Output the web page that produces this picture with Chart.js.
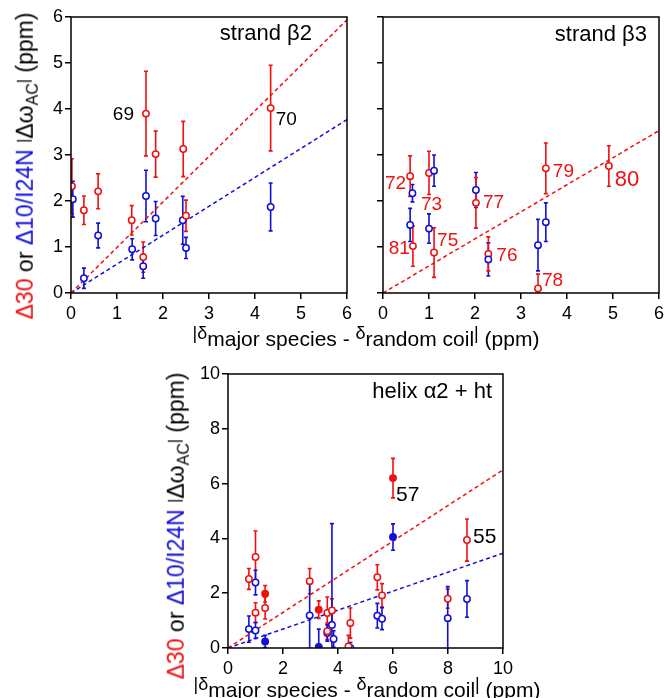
<!DOCTYPE html>
<html>
<head>
<meta charset="utf-8">
<script src="https://cdn.jsdelivr.net/npm/chart.js@4"></script>
<style>
  body { margin: 0; background: #fff; }
  #page { position: relative; width: 664px; height: 698px; overflow: hidden; font-family: "Liberation Sans", Arial, sans-serif; }
  canvas { position: absolute; }
  .ytitle { position: absolute; transform: translate(-50%, -50%) rotate(-90deg); white-space: nowrap; font-size: 23px; line-height: 1.15; color: #000; }
  .xtitle { position: absolute; transform: translateX(-50%); white-space: nowrap; font-size: 21px; line-height: 21px; color: #000; }
  .up { position: relative; top: -7px; font-size: 18px; }
  .bar { position: relative; top: -4px; font-size: 16px; }
  .sub { position: relative; top: 5px; font-size: 16px; }
  .red { color: #f01010; }
  .blue { color: #1010d8; }
</style>
</head>
<body>
<div id="page">
  <canvas id="c1" width="365" height="325" style="left:0;top:0"></canvas>
  <canvas id="c2" width="325" height="325" style="left:355px;top:0"></canvas>
  <canvas id="c3" width="385" height="325" style="left:150px;top:355px"></canvas>

  <div class="ytitle" style="left:25px;top:166px"><span class="red">Δ30</span> or <span class="blue">Δ10/I24N</span> <span class="bar">|</span>Δω<span class="sub">AC</span><span class="bar">|</span> (ppm)</div>
  <div class="xtitle" style="left:366px;top:328px"><span class="up">|δ</span>major species - <span class="up">δ</span>random coil<span class="up">|</span> (ppm)</div>

  <div class="ytitle" style="left:176px;top:526px"><span class="red">Δ30</span> or <span class="blue">Δ10/I24N</span> <span class="bar">|</span>Δω<span class="sub">AC</span><span class="bar">|</span> (ppm)</div>
  <div class="xtitle" style="left:367px;top:679px"><span class="up">|δ</span>major species - <span class="up">δ</span>random coil<span class="up">|</span> (ppm)</div>
</div>
<script>
// strand β2
const b2RedX = [0.02, 0.28, 0.59, 1.32, 1.57, 1.63, 1.84, 2.44, 2.50, 4.34];
const b2RedY = [2.32, 1.80, 2.21, 1.58, 0.78, 3.90, 3.02, 3.13, 1.68, 4.02];
const b2RedErr = [0.60, 0.31, 0.38, 0.32, 0.33, 0.92, 0.50, 0.60, 0.34, 0.93];
const b2BlueX = [0.04, 0.28, 0.59, 1.33, 1.57, 1.63, 1.84, 2.43, 2.50, 4.34];
const b2BlueY = [2.04, 0.32, 1.25, 0.95, 0.58, 2.11, 1.62, 1.58, 0.98, 1.87];
const b2BlueErr = [0.39, 0.22, 0.27, 0.23, 0.26, 0.56, 0.37, 0.52, 0.23, 0.52];
const b2FitX = [0, 6];
const b2RedFit = [0, 5.94];
const b2BlueFit = [0, 3.77];

// strand β3  (red order: 72, 73, 81, 75, 77, 76, 78, 79, 80)
const b3RedX = [0.59, 1.00, 0.65, 1.11, 2.02, 2.29, 3.37, 3.54, 4.91];
const b3RedY = [2.54, 2.61, 1.02, 0.88, 1.96, 0.85, 0.10, 2.71, 2.76];
const b3RedErr = [0.44, 0.47, 0.44, 0.54, 0.55, 0.37, 0.31, 0.55, 0.44];
const b3RedNames = ['72', '73', '81', '75', '77', '76', '78', '79', '80'];
const b3BlueX = [0.64, 1.11, 0.59, 1.00, 2.02, 2.29, 3.37, 3.54];
const b3BlueY = [2.17, 2.66, 1.48, 1.40, 2.24, 0.73, 1.04, 1.54];
const b3BlueErr = [0.19, 0.34, 0.36, 0.32, 0.38, 0.36, 0.56, 0.42];
const b3FitX = [0, 6];
const b3RedFit = [0, 3.53];

// helix α2 + ht
const hxRedX = [0.76, 1.00, 1.00, 1.35, 2.97, 3.61, 3.61, 3.78, 4.38, 4.45, 5.43, 5.60, 7.99, 8.69];
const hxRedY = [2.52, 3.32, 1.29, 1.46, 2.44, 1.28, 0.61, 1.37, 0.06, 0.91, 2.58, 1.92, 1.80, 3.94];
const hxRedErr = [0.38, 0.95, 0.36, 0.40, 0.46, 0.58, 0.30, 0.43, 0.40, 0.55, 0.46, 0.43, 0.35, 0.77];
const hxRedFillX = [1.35, 3.30, 6.00];
const hxRedFillY = [1.98, 1.40, 6.20];
const hxRedFillErr = [0.30, 0.32, 0.72];
const hxBlueX = [0.76, 1.00, 1.00, 2.97, 3.61, 3.78, 3.84, 4.45, 5.43, 5.60, 7.99, 8.69];
const hxBlueY = [0.69, 2.39, 0.64, 1.19, 0.55, 0.84, 0.33, 0.00, 1.18, 1.07, 1.09, 1.79];
const hxBlueErr = [0.48, 0.45, 0.29, 1.20, 0.30, 3.70, 0.30, 0.20, 0.45, 0.40, 1.15, 0.67];
const hxBlueFillX = [1.35, 3.30, 6.00];
const hxBlueFillY = [0.24, 0.04, 4.05];
const hxBlueFillErr = [0.22, 0.65, 0.48];
const hxFitX = [0, 10];
const hxRedFit = [0, 6.5];
const hxBlueFit = [0, 3.46];

const RED = '#f01010';
const BLUE = '#1010d8';
const FONT = '"Liberation Sans", Arial, sans-serif';

function pts(xs, ys) {
  return xs.map((x, i) => ({x: x, y: ys[i]}));
}

function scatterSet(xs, ys, errs, color, filled) {
  return {
    type: 'scatter',
    data: pts(xs, ys),
    errs: errs,
    borderColor: color,
    backgroundColor: filled ? color : '#fff',
    pointRadius: 3.2,
    pointBorderWidth: 1.5,
    order: 1
  };
}

function fitSet(xs, ys, color) {
  return {
    type: 'line',
    data: pts(xs, ys),
    borderColor: color,
    borderWidth: 1.5,
    borderDash: [4, 3],
    pointRadius: 0,
    fill: false,
    order: 3
  };
}

// error bars under the markers
const errorBars = {
  id: 'errorBars',
  beforeDatasetsDraw(chart) {
    const {ctx, chartArea: a, scales: {x, y}} = chart;
    ctx.save();
    ctx.beginPath();
    ctx.rect(a.left, a.top, a.right - a.left, a.bottom - a.top);
    ctx.clip();
    chart.data.datasets.forEach(ds => {
      if (!ds.errs) return;
      ctx.strokeStyle = ds.borderColor;
      ctx.lineWidth = 1.6;
      ds.data.forEach((p, i) => {
        const px = x.getPixelForValue(p.x);
        const t = y.getPixelForValue(p.y + ds.errs[i]);
        const b = y.getPixelForValue(p.y - ds.errs[i]);
        ctx.beginPath();
        ctx.moveTo(px, t); ctx.lineTo(px, b);
        ctx.moveTo(px - 2, t); ctx.lineTo(px + 2, t);
        ctx.moveTo(px - 2, b); ctx.lineTo(px + 2, b);
        ctx.stroke();
      });
    });
    ctx.restore();
  }
};

// frame, panel name, residue numbers
const panelDeco = {
  id: 'panelDeco',
  afterDraw(chart, args, opts) {
    const {ctx, chartArea: a} = chart;
    ctx.save();
    ctx.strokeStyle = '#000';
    ctx.lineWidth = 1.5;
    ctx.strokeRect(a.left, a.top, a.right - a.left, a.bottom - a.top);
    ctx.fillStyle = '#000';
    ctx.font = '22px ' + FONT;
    ctx.textAlign = 'right';
    ctx.textBaseline = 'alphabetic';
    ctx.fillText(opts.title, a.right - opts.titleRight, a.top + opts.titleBase);
    (opts.labels || []).forEach(l => {
      const el = chart.getDatasetMeta(l.ds).data[l.i];
      ctx.fillStyle = l.color;
      ctx.font = l.size + 'px ' + FONT;
      ctx.textAlign = l.align;
      ctx.textBaseline = 'middle';
      ctx.fillText(l.text, el.x + l.dx, el.y + l.dy);
    });
    ctx.restore();
  }
};

function axis(max, step, showLabels, fitSize, isX) {
  return {
    type: 'linear',
    min: 0,
    max: max,
    ticks: {stepSize: step, display: showLabels, color: '#000', font: {family: FONT, size: 18}, padding: isX ? 4 : 2, maxRotation: 0},
    grid: {drawOnChartArea: false, drawTicks: true, tickLength: 6, color: '#000', lineWidth: 1.5},
    border: {display: false},
    afterFit(s) { if (isX) s.height = fitSize; else s.width = fitSize; }
  };
}

function makePanel(id, datasets, xMax, step, yLabels, yWidth, padding, deco) {
  return new Chart(id, {
    data: {datasets: datasets},
    options: {
      responsive: false,
      animation: false,
      devicePixelRatio: 1,
      layout: {padding: padding},
      scales: {
        x: axis(xMax, step, true, 32, true),
        y: axis(xMax, step, yLabels, yWidth, false)
      },
      plugins: {legend: {display: false}, tooltip: {enabled: false}, panelDeco: deco}
    },
    plugins: [errorBars, panelDeco]
  });
}

makePanel('c1', [
  scatterSet(b2RedX, b2RedY, b2RedErr, RED, false),
  scatterSet(b2BlueX, b2BlueY, b2BlueErr, BLUE, false),
  fitSet(b2FitX, b2RedFit, RED),
  fitSet(b2FitX, b2BlueFit, BLUE)
], 6, 1, true, 71, {top: 17, right: 18, left: 0, bottom: 0}, {
  title: 'strand β2', titleRight: 35, titleBase: 23,
  labels: [
    {ds: 0, i: 5, text: '69', dx: -12, dy: 1, align: 'right', color: '#000', size: 19},
    {ds: 0, i: 9, text: '70', dx: 5, dy: 12, align: 'left', color: '#000', size: 19}
  ]
});

const b3Offsets = [
  {dx: -4, dy: 8, align: 'right'}, {dx: -8, dy: 32, align: 'left'}, {dx: -3, dy: 3, align: 'right'},
  {dx: 3, dy: -12, align: 'left'}, {dx: 7, dy: 0, align: 'left'}, {dx: 8, dy: 2, align: 'left'},
  {dx: 4, dy: -8, align: 'left'}, {dx: 7, dy: 3, align: 'left'}, {dx: 6, dy: 14, align: 'left'}
];

makePanel('c2', [
  scatterSet(b3BlueX, b3BlueY, b3BlueErr, BLUE, false),
  scatterSet(b3RedX, b3RedY, b3RedErr, RED, false),
  fitSet(b3FitX, b3RedFit, RED)
], 6, 1, false, 28, {top: 17, right: 21, left: 0, bottom: 0}, {
  title: 'strand β3', titleRight: 12, titleBase: 24,
  labels: b3RedNames.map((t, i) => Object.assign({ds: 1, i: i, text: t, color: RED, size: i === 8 ? 22 : 19}, b3Offsets[i]))
});

makePanel('c3', [
  scatterSet(hxRedX, hxRedY, hxRedErr, RED, false),
  scatterSet(hxRedFillX, hxRedFillY, hxRedFillErr, RED, true),
  scatterSet(hxBlueX, hxBlueY, hxBlueErr, BLUE, false),
  scatterSet(hxBlueFillX, hxBlueFillY, hxBlueFillErr, BLUE, true),
  fitSet(hxFitX, hxRedFit, RED),
  fitSet(hxFitX, hxBlueFit, BLUE)
], 10, 2, true, 78, {top: 19, right: 32, left: 0, bottom: 0}, {
  title: 'helix α2 + ht', titleRight: 11, titleBase: 24,
  labels: [
    {ds: 1, i: 2, text: '57', dx: 3, dy: 17, align: 'left', color: '#000', size: 21},
    {ds: 0, i: 13, text: '55', dx: 6, dy: -3, align: 'left', color: '#000', size: 21}
  ]
});
</script>
</body>
</html>
